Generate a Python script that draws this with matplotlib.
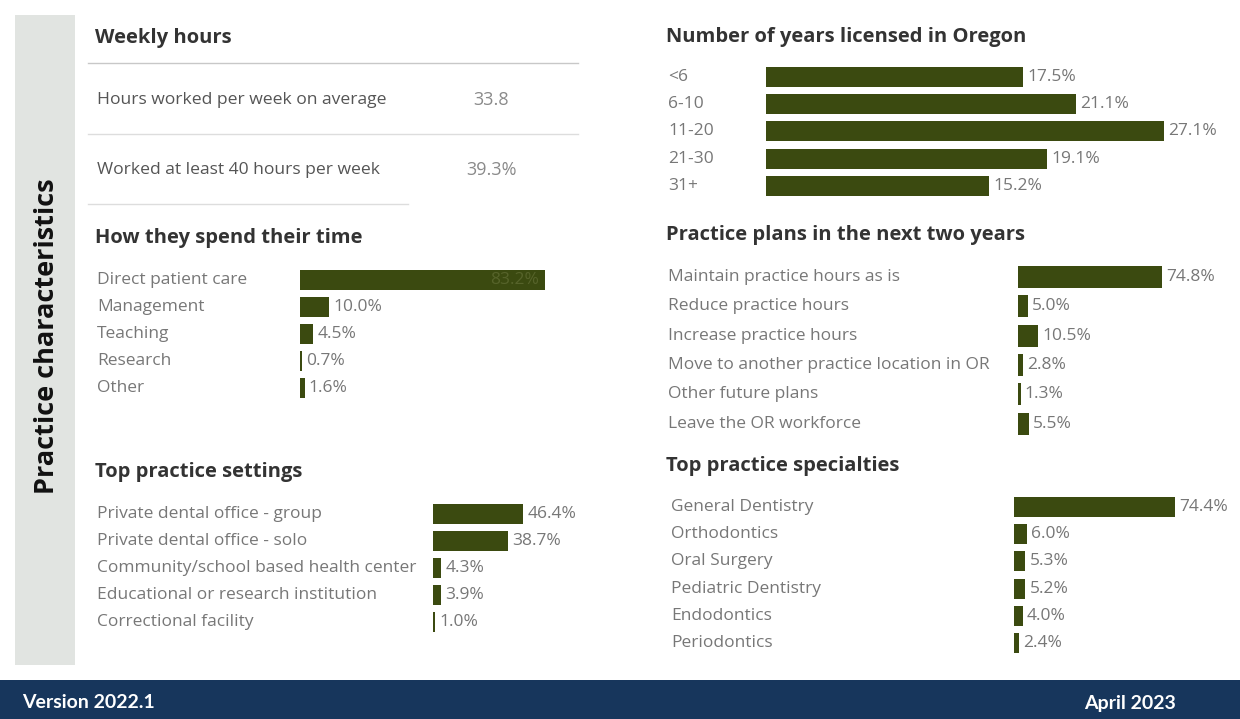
import matplotlib.pyplot as plt
from matplotlib.transforms import blended_transform_factory

plt.rcParams['font.family'] = ['Open Sans', 'DejaVu Sans']

W, H = 1240, 719

# --- data ---
weekly_labels = ["Hours worked per week on average", "Worked at least 40 hours per week"]
weekly_values = ["33.8", "39.3%"]

time_cats = ["Direct patient care", "Management", "Teaching", "Research", "Other"]
time_vals = [83.2, 10.0, 4.5, 0.7, 1.6]

setting_cats = ["Private dental office - group", "Private dental office - solo",
                "Community/school based health center", "Educational or research institution",
                "Correctional facility"]
setting_vals = [46.4, 38.7, 4.3, 3.9, 1.0]

years_cats = ["<6", "6-10", "11-20", "21-30", "31+"]
years_vals = [17.5, 21.1, 27.1, 19.1, 15.2]

plan_cats = ["Maintain practice hours as is", "Reduce practice hours", "Increase practice hours",
             "Move to another practice location in OR", "Other future plans", "Leave the OR workforce"]
plan_vals = [74.8, 5.0, 10.5, 2.8, 1.3, 5.5]

spec_cats = ["General Dentistry", "Orthodontics", "Oral Surgery", "Pediatric Dentistry",
             "Endodontics", "Periodontics"]
spec_vals = [74.4, 6.0, 5.3, 5.2, 4.0, 2.4]

BAR = "#3b4a10"
LABEL = "#777777"
TITLE = "#333333"


def fx(x):
    return x / W


def fy(y):
    return 1 - y / H


def title(x, y, s):
    fig.text(fx(x), fy(y), s, fontsize=14.5, fontweight="bold", color=TITLE, va="center")


def bar_panel(cats, vals, bar_x, y_first, spacing, px_per_pct, label_x, bar_h=20, inside_first=False):
    n = len(cats)
    width_px = 130 * px_per_pct if px_per_pct < 5 else 30 * px_per_pct
    top = y_first - spacing / 2
    bottom = y_first + spacing * (n - 0.5)
    ax = fig.add_axes([fx(bar_x), fy(bottom), width_px / W, (bottom - top) / H])
    ax.set_xlim(0, width_px / px_per_pct)
    ax.set_ylim(n - 0.5, -0.5)
    ax.barh(range(n), vals, height=bar_h / spacing, color=BAR, edgecolor="none")
    ax.axis("off")
    tr = blended_transform_factory(fig.transFigure, ax.transData)
    for i, (c, v) in enumerate(zip(cats, vals)):
        ax.text(fx(label_x), i, c, transform=tr, fontsize=12.5, color=LABEL, va="center")
        if inside_first and i == 0:
            ax.annotate(f"{v:.1f}%", (v, i), xytext=(-4, 0), textcoords="offset points",
                        ha="right", va="center", fontsize=12.5, color="#56632a")
        else:
            ax.annotate(f"{v:.1f}%", (v, i), xytext=(3, 0), textcoords="offset points",
                        ha="left", va="center", fontsize=12.5, color=LABEL)
    return ax


fig = plt.figure(figsize=(W / 100, H / 100), dpi=100)
fig.patch.set_facecolor("white")

# side band
fig.patches.append(plt.Rectangle((fx(15), fy(665)), 60 / W, 650 / H, transform=fig.transFigure,
                                 facecolor="#e1e4e1", edgecolor="none"))
fig.text(fx(47), fy(336), "Practice characteristics", rotation=90, fontsize=19.5,
         fontweight="bold", color="#111111", ha="center", va="center")

# footer band
fig.patches.append(plt.Rectangle((0, 0), 1, 39 / H, transform=fig.transFigure,
                                 facecolor="#17365c", edgecolor="none"))
fig.text(fx(22), fy(703), "Version 2022.1", fontsize=14, fontweight="bold", color="white",
         va="center", family="Lato")
fig.text(fx(1176), fy(703), "April 2023", fontsize=14, fontweight="bold", color="white",
         va="center", ha="right", family="Lato")

# weekly hours block
title(95, 38, "Weekly hours")
for y, x1, c in [(63, 578, "#c8c8c8"), (134, 578, "#dddddd"), (204, 408, "#dddddd")]:
    fig.add_artist(plt.Line2D([fx(88), fx(x1)], [fy(y), fy(y)], color=c, lw=1))
for y, lab, val in zip([100, 170], weekly_labels, weekly_values):
    fig.text(fx(97), fy(y), lab, fontsize=12.6, color="#555555", va="center")
    fig.text(fx(491), fy(y), val, fontsize=13, color="#8a8a8a", va="center", ha="center")

title(95, 238, "How they spend their time")
bar_panel(time_cats, time_vals, 300, 280, 27, 2.94, 97, inside_first=True)

title(95, 472, "Top practice settings")
bar_panel(setting_cats, setting_vals, 433, 514, 27, 1.94, 97)

title(666, 37, "Number of years licensed in Oregon")
bar_panel(years_cats, years_vals, 766, 77, 27.2, 14.7, 668)

title(666, 235, "Practice plans in the next two years")
bar_panel(plan_cats, plan_vals, 1018, 277, 29.3, 1.93, 668, bar_h=22)

title(666, 466, "Top practice specialties")
bar_panel(spec_cats, spec_vals, 1014, 507, 27.2, 2.16, 671)

fig.savefig("out.png", dpi=100, facecolor="white")
